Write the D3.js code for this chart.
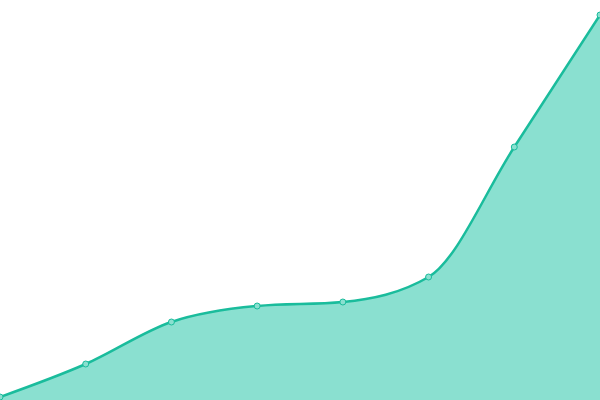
<!DOCTYPE html>
<html><head><meta charset="utf-8">
<script src="https://cdn.jsdelivr.net/npm/d3@7"></script>
<style>html,body{margin:0;padding:0;background:#fff;}svg{display:block;}</style>
</head><body>
<svg id="chart" width="600" height="400"></svg>
<script>
const categories = [0, 1, 2, 3, 4, 5, 6, 7];
const values = [3, 36, 78, 94, 98, 123, 253, 385];

const W = 600, H = 400;
const svg = d3.select("#chart");
const x = d3.scaleLinear().domain([0, categories.length - 1]).range([0, W]);
const y = d3.scaleLinear().domain([0, 400]).range([H, 0]);
const data = categories.map((c, i) => ({c, v: values[i]}));

svg.append("path").datum(data)
  .attr("d", d3.area().x(d => x(d.c)).y0(H).y1(d => y(d.v)).curve(d3.curveMonotoneX))
  .attr("fill", "#8ae0d0");
svg.append("path").datum(data)
  .attr("d", d3.line().x(d => x(d.c)).y(d => y(d.v)).curve(d3.curveMonotoneX))
  .attr("fill", "none").attr("stroke", "#1abc9c").attr("stroke-width", 2.5);
svg.selectAll("circle").data(data).join("circle")
  .attr("cx", d => x(d.c)).attr("cy", d => y(d.v)).attr("r", 3)
  .attr("fill", "#8ae0d0").attr("stroke", "#1abc9c").attr("stroke-width", 1);
</script>
</body></html>
